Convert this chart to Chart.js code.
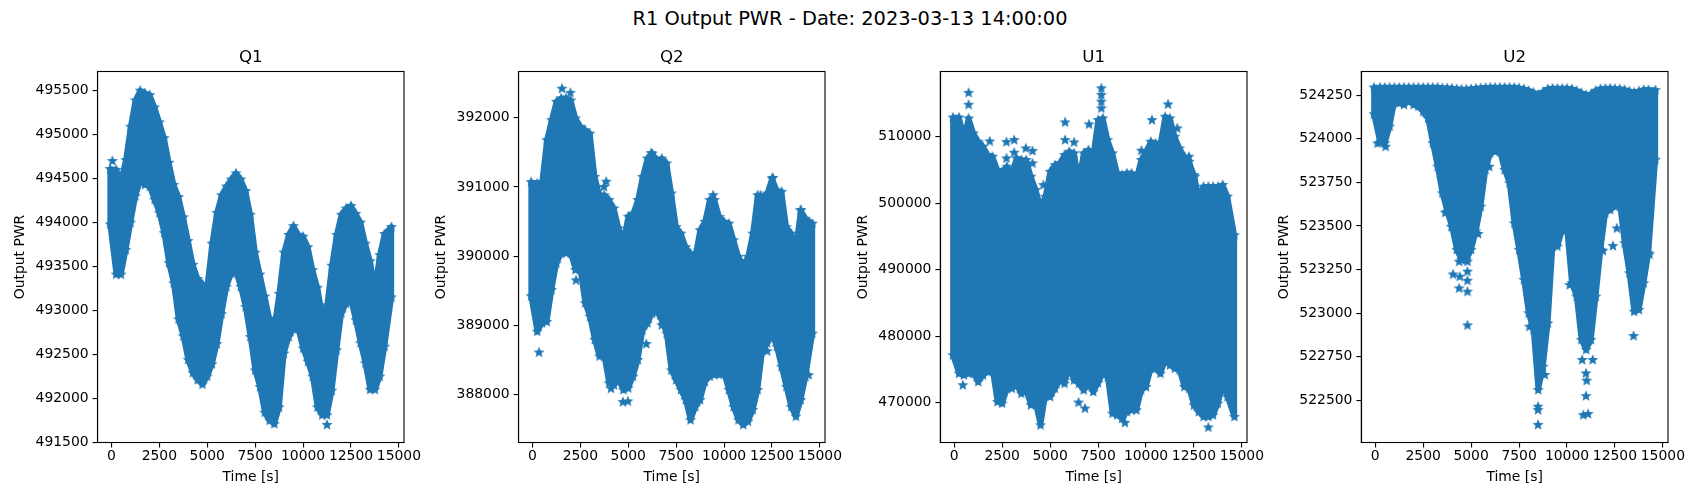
<!DOCTYPE html>
<html>
<head>
<meta charset="utf-8">
<title>R1 Output PWR</title>
<script src="https://cdn.jsdelivr.net/npm/chart.js@4"></script>
<style>
  body { margin:0; background:#fff; width:1700px; height:500px; position:relative; overflow:hidden; }
  #suptitle { position:absolute; left:0; width:1700px; top:7px; text-align:center; font:19.44px "DejaVu Sans"; color:#000; }
  canvas { position:absolute; top:0; }
</style>
</head>
<body>
<div id="suptitle">R1 Output PWR - Date: 2023-03-13 14:00:00</div>
<canvas id="q1"></canvas>
<canvas id="q2"></canvas>
<canvas id="u1"></canvas>
<canvas id="u2"></canvas>
<script>
// sample times [s], envelope of the point cloud is read at these
const times = [-70,250,500,750,1000,1250,1500,1750,2000,2250,
  2500,2750,3000,3250,3500,3750,4000,4250,4500,4750,
  5000,5250,5500,5750,6000,6250,6500,6750,7000,7250,
  7500,7750,8000,8250,8500,8750,9000,9250,9500,9750,
  10000,10250,10500,10750,11000,11250,11500,11750,12000,12250,
  12500,12750,13000,13250,13500,13750,14000,14250,14610];
const xTicks = [0,2500,5000,7500,10000,12500,15000];

const q1Ticks = [491500,492000,492500,493000,493500,494000,494500,495000,495500];
const q1Upper = [494610,494600,494480,494710,495090,495390,495500,495470,495450,495310,
  495140,494960,494680,494430,494290,494060,493790,493520,493360,493300,
  493280,493760,494110,494310,494410,494490,494560,494490,494360,494090,
  493660,493410,493160,492910,492820,493190,493660,493860,493960,493860,
  493840,493720,493460,493260,492960,493060,493510,493860,494090,494160,
  494190,494100,494000,493760,493560,493250,493630,493870,493950];
const q1Lower = [493980,493410,493410,493690,494000,494300,494470,494430,494410,494260,
  494110,493880,493540,493310,492900,492710,492440,492290,492210,492160,
  492250,492390,492620,492960,493270,493420,493440,493270,493040,492700,
  492320,492130,491840,491750,491710,491900,492510,492700,492790,492790,
  492570,492420,492250,491900,491810,491810,492090,492550,492970,493080,
  493120,492890,492630,492400,492100,492100,492250,492590,493150];
const q1Stray = [[50,494700],[11250,491700]];

const q2Ticks = [388000,389000,390000,391000,392000];
const q2Upper = [391070,391050,391070,391675,391965,392230,392280,392280,392250,391990,
  391870,391820,391770,391145,390880,390880,390810,390690,390400,390230,
  390570,390615,390810,391145,391410,391480,391385,391410,391340,390905,
  390420,390325,390130,390035,390010,390375,390495,390810,390810,390565,
  390495,390470,390230,389990,389870,389990,390325,390880,390810,390905,
  391120,390950,390930,390420,390325,390130,390660,390540,390470];
const q2Lower = [389420,388910,389030,389050,389510,389895,390040,390040,390040,389800,
  389800,389320,389125,388790,388550,388550,388160,388135,388210,388065,
  388090,388260,388500,388930,389030,389170,389195,389075,388880,388350,
  388210,388065,387920,387630,387820,387920,388185,388260,388285,388285,
  388310,388065,387820,387630,387560,387610,387775,388065,388640,388740,
  388885,388690,388400,388110,387820,387680,387920,388255,388880];
const q2Stray = [[1540,392420],[1980,392360],[3850,391075],[3730,391000],[345,388607],[2275,389650],
  [4720,387890],[4980,387900],[5940,388730],[6750,389000],[14410,388280],[12250,388625],
  [12550,391130],[11900,390880],[14000,390665],[9430,390880],[6200,391490],[4100,388085]];

const u1Ticks = [470000,480000,490000,500000,510000];
const u1Upper = [512900,512900,510000,512760,510500,509250,508500,507250,507000,505000,
  504740,505490,504500,506740,506500,506500,504000,502000,499500,500980,
  504740,505740,505990,507240,507750,507500,503500,507500,508000,507240,
  512500,512760,509500,507500,504500,504240,504500,504500,503740,506500,
  507750,509250,509000,509000,513000,512760,510000,508250,507000,506250,
  504240,501000,502500,502500,502500,502500,502750,501000,495200];
const u1Lower = [477160,474400,474150,474400,474400,473150,474150,474650,474900,470150,
  469900,472150,472150,472650,471400,471900,469650,469900,466635,471150,
  470900,472150,473400,472900,475400,473400,472900,471900,472900,471650,
  473000,474400,473900,468400,468140,467640,468640,468900,468900,471900,
  472400,475160,475160,474400,476400,475660,475160,474900,472400,472150,
  469640,468640,467900,467900,468140,469900,472650,470900,467900];
const u1Stray = [[450,472650],[750,516600],[750,514800],[1850,509300],[2725,509200],[2725,506740],
  [3125,509500],[3125,507600],[3730,508250],[4080,507850],[4080,506000],[4650,502730],
  [5780,512150],[5780,509500],[6250,509150],[7030,511850],[7670,517270],[7670,516270],
  [7670,515260],[7670,514260],[6480,470050],[6820,469150],[10310,512500],[11150,514860],
  [11630,511250],[9760,507900],[12550,504000],[12240,507000],[13250,466300],[8900,467000]];

const u2Ticks = [522500,522750,523000,523250,523500,523750,524000,524250];
const u2Upper = [524293,524293,524293,524293,524293,524293,524293,524293,524293,524293,
  524293,524293,524293,524293,524290,524290,524288,524285,524282,524283,
  524285,524288,524290,524292,524293,524293,524293,524293,524293,524293,
  524290,524285,524275,524265,524250,524268,524285,524288,524287,524287,
  524287,524285,524275,524262,524250,524255,524275,524285,524287,524288,
  524286,524285,524280,524272,524265,524272,524280,524280,524278];
const u2Lower = [524140,523978,523974,524070,524213,524203,524194,524213,524194,524184,
  524155,524117,523974,523840,523687,523582,523496,523363,523305,523305,
  523363,523468,523611,523821,523917,523926,523926,523821,523745,523515,
  523363,523191,523000,522904,522560,522694,522942,523382,523382,523477,
  523477,523172,523095,522847,522790,522847,523095,523363,523573,523592,
  523611,523630,523401,523229,523009,523019,523172,523344,523880];
const u2Stray = [[120,523973],[540,523954],[2620,524149],[3650,523576],[3975,523495],[4060,523222],
  [4410,523209],[4375,523295],[4375,523142],[4810,523238],[4810,523186],[4810,523123],
  [4810,522930],[4810,523295],[5940,523839],[5365,523454],[8490,522360],[8490,522464],
  [8490,522445],[8840,522646],[8040,522923],[10790,522732],[11340,522732],[10990,522655],
  [11025,522613],[10990,522525],[10850,522416],[11100,522422],[10140,523161],[13470,522869],
  [12600,523486],[12395,523385],[11875,523358],[14300,523337]];

const BLUE = '#1f77b4';
const FONT = '"DejaVu Sans"';

// filled five pointed star, same as the matplotlib '*' marker
function makeStar() {
  const c = document.createElement('canvas');
  c.width = 14; c.height = 14;
  const g = c.getContext('2d');
  g.fillStyle = BLUE;
  g.beginPath();
  for (let i = 0; i < 10; i++) {
    const r = i % 2 ? 2.6 : 5.8;
    const a = -Math.PI / 2 + i * Math.PI / 5;
    g.lineTo(7 + r * Math.cos(a), 7 + r * Math.sin(a));
  }
  g.closePath();
  g.fill();
  return c;
}
const star = makeStar();

// matplotlib draws a full box, Chart.js only the left and bottom side
const boxPlugin = {
  id: 'box',
  afterDraw(chart) {
    const a = chart.chartArea, ctx = chart.ctx;
    ctx.save();
    ctx.strokeStyle = '#000';
    ctx.lineWidth = 1.1;
    ctx.strokeRect(a.left, a.top, a.right - a.left, a.bottom - a.top);
    ctx.restore();
  }
};

function panel(id, title, upper, lower, stray, yTicks, axesLeft, yMin, yMax) {
  const canvas = document.getElementById(id);
  const left = Math.floor(axesLeft - 90);
  const yWidth = axesLeft - left;
  canvas.width = yWidth + 307 + 30;
  canvas.height = 500;
  canvas.style.left = left + 'px';

  const top = times.map((t, i) => ({ x:t, y:upper[i] }));
  const bottom = times.map((t, i) => ({ x:t, y:lower[i] }));
  const outline = top.concat(bottom.slice().reverse(), [top[0]]);

  new Chart(canvas, {
    type:'scatter',
    data:{
      datasets:[
        { data:outline, showLine:true, fill:'shape', backgroundColor:BLUE, borderColor:BLUE, borderWidth:5.5, borderJoinStyle:'round', pointRadius:0, tension:0 },
        { data:top.concat(bottom), pointStyle:star, pointRadius:5, backgroundColor:BLUE, borderColor:BLUE },
        { data:stray.map(p => ({ x:p[0], y:p[1] })), pointStyle:star, pointRadius:5, backgroundColor:BLUE, borderColor:BLUE }
      ]
    },
    plugins:[boxPlugin],
    options:{
      responsive:false,
      animation:false,
      events:[],
      layout:{ padding:{ top:0, right:30, bottom:0, left:0 } },
      plugins:{
        legend:{ display:false },
        tooltip:{ enabled:false },
        title:{ display:true, text:title, color:'#000', fullSize:false, font:{ family:FONT, size:16.67, weight:'normal' }, padding:{ top:47.5, bottom:4 } }
      },
      scales:{
        x:{
          type:'linear', min:-727, max:15267,
          afterFit(s) { s.height = 57.5; },
          afterBuildTicks(s) { s.ticks = xTicks.map(v => ({ value:v })); },
          border:{ display:true, color:'#000', width:1.1 },
          grid:{ drawOnChartArea:false, drawTicks:true, tickLength:4.9, color:'#000', lineWidth:1.1 },
          ticks:{ autoSkip:false, maxRotation:0, padding:1, color:'#000', font:{ family:FONT, size:13.9 }, callback:v => String(v) },
          title:{ display:true, text:'Time [s]', color:'#000', font:{ family:FONT, size:13.9 }, padding:{ top:0, bottom:14.7 } }
        },
        y:{
          type:'linear', min:yMin, max:yMax,
          afterFit(s) { s.width = yWidth; },
          afterBuildTicks(s) { s.ticks = yTicks.map(v => ({ value:v })); },
          border:{ display:true, color:'#000', width:1.1 },
          grid:{ drawOnChartArea:false, drawTicks:true, tickLength:4.9, color:'#000', lineWidth:1.1 },
          ticks:{ autoSkip:false, padding:4, color:'#000', font:{ family:FONT, size:13.9 }, callback:v => String(v) },
          title:{ display:true, text:'Output PWR', color:'#000', font:{ family:FONT, size:13.9 }, padding:{ top:5.5, bottom:0 } }
        }
      }
    }
  });
}

panel('q1', 'Q1', q1Upper, q1Lower, q1Stray, q1Ticks, 97.5, 491500, 495718);
panel('q2', 'Q2', q2Upper, q2Lower, q2Stray, q2Ticks, 518.5, 387306, 392668);
panel('u1', 'U1', u1Upper, u1Lower, u1Stray, u1Ticks, 940.3, 464045, 519805);
panel('u2', 'U2', u2Upper, u2Lower, u2Stray, u2Ticks, 1361.3, 522259, 524385);
</script>
</body>
</html>
